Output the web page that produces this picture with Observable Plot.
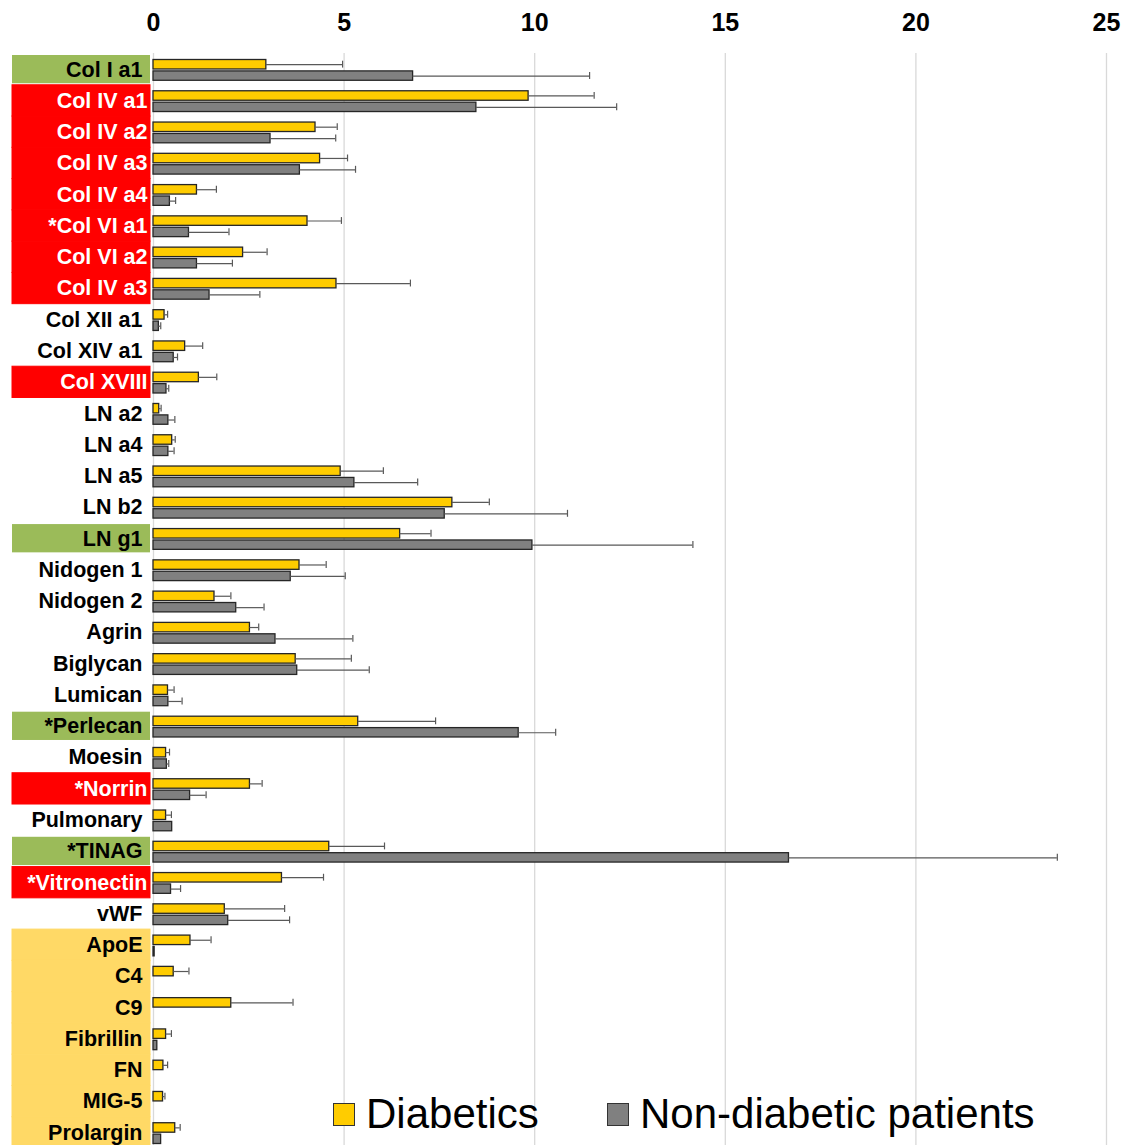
<!DOCTYPE html>
<html>
<head>
<meta charset="utf-8">
<script src="https://cdn.jsdelivr.net/npm/d3@7"></script>
<script src="https://cdn.jsdelivr.net/npm/@observablehq/plot@0.6"></script>
<style>
  body { margin: 0; background: #fff; font-family: "Liberation Sans", Arial, sans-serif; }
  #wrap { position: relative; width: 1139px; height: 1145px; overflow: hidden; }
  .legend { position: absolute; top: 1093px; display: flex; align-items: center; font-size: 42px; color: #000; line-height: 1; }
  .sw { width: 20px; height: 21px; border: 1.5px solid #333; display: inline-block; margin-right: 11px; }
</style>
</head>
<body>
<div id="wrap"></div>
<script>
const categories = ["Col I a1","Col IV a1","Col IV a2","Col IV a3","Col IV a4","*Col VI a1","Col VI a2","Col IV a3",
  "Col XII a1","Col XIV a1","Col XVIII","LN a2","LN a4","LN a5","LN b2","LN g1","Nidogen 1","Nidogen 2",
  "Agrin","Biglycan","Lumican","*Perlecan","Moesin","*Norrin","Pulmonary","*TINAG","*Vitronectin","vWF",
  "ApoE","C4","C9","Fibrillin","FN","MIG-5","Prolargin"];
const diabetics = [2.96,9.84,4.25,4.37,1.14,4.04,2.35,4.80,0.29,0.83,1.19,0.15,0.49,4.91,7.84,6.47,3.83,1.60,
  2.53,3.73,0.38,5.37,0.33,2.53,0.33,4.61,3.37,1.87,0.97,0.53,2.04,0.33,0.26,0.25,0.57];
const diabeticsErr = [2.00,1.72,0.57,0.72,0.51,0.89,0.63,1.94,0.08,0.46,0.47,0.05,0.08,1.12,0.97,0.81,0.70,0.43,
  0.23,1.46,0.16,2.03,0.09,0.32,0.14,1.45,1.09,1.57,0.54,0.40,1.62,0.14,0.11,0.05,0.13];
const nonDiabetic = [6.81,8.47,3.07,3.84,0.43,0.93,1.14,1.47,0.14,0.53,0.34,0.39,0.39,5.27,7.64,9.94,3.60,2.17,
  3.20,3.77,0.39,9.58,0.35,0.96,0.49,16.67,0.46,1.96,0.03,0,0,0.10,0,0,0.20];
const nonDiabeticErr = [4.63,3.68,1.71,1.46,0.15,1.05,0.93,1.32,0.05,0.10,0.06,0.17,0.15,1.66,3.22,4.21,1.43,0.73,
  2.03,1.89,0.36,0.97,0.05,0.42,0,7.04,0.25,1.61,0,0,0,0,0,0,0];
const highlight = ["green","red","red","red","red","red","red","red",
  "","","red","","","","","green","","",
  "","","","green","","red","","green","red","",
  "orange","orange","orange","orange","orange","orange","orange"];
const xTicks = [0,5,10,15,20,25];
const seriesNames = ["Diabetics","Non-diabetic patients"];

const boxColor = {green: "#9BBB59", red: "#FF0000", orange: "#FFD966"};
const boxInset = {green: 1.5, red: 0, orange: 0};
const yellow = "#FFCC00", gray = "#808080";

const rows = categories.map((label, i) => ({
  i, label, d: diabetics[i], dErr: diabeticsErr[i], n: nonDiabetic[i], nErr: nonDiabeticErr[i], group: highlight[i]
}));

const W = 1139, H = 1145, mL = 153, mR = 33, mT = 53;
const frameW = W - mL - mR;
const boxMarks = Object.keys(boxColor).map(g =>
  Plot.cell(rows.filter(r => r.group === g), {
    y: "i", fill: boxColor[g], stroke: boxColor[g], strokeWidth: g === "green" ? 0 : 1,
    insetLeft: -141, insetRight: frameW + 3, insetTop: boxInset[g], insetBottom: boxInset[g]
  })
);
const errStyle = {stroke: "#595959", strokeWidth: 1.2};

const chart = Plot.plot({
  width: W, height: H,
  marginTop: mT, marginLeft: mL, marginRight: mR, marginBottom: 0,
  style: {fontFamily: "'Liberation Sans', Arial, sans-serif", background: "white", overflow: "visible"},
  x: {domain: [0, 25], axis: null},
  y: {domain: d3.range(categories.length), axis: null, padding: 0, round: false, range: [mT + 0.5, H + 3]},
  marks: [
    ...boxMarks,
    Plot.ruleX(xTicks, {x: d => d, stroke: "#D9D9D9", strokeWidth: 1.3}),
    Plot.text(xTicks, {x: d => d, frameAnchor: "top", lineAnchor: "middle", dy: -31, text: d => String(d), fontSize: 25, fontWeight: "bold", fill: "black"}),
    Plot.barX(rows, {y: "i", x: "d", fill: yellow, stroke: "#262626", strokeWidth: 1.3, insetTop: 6, insetBottom: 15.8}),
    Plot.barX(rows.filter(r => r.n > 0), {y: "i", x: "n", fill: gray, stroke: "#262626", strokeWidth: 1.3, insetTop: 17.4, insetBottom: 4.5}),
    Plot.ruleY(rows.filter(r => r.dErr > 0), {y: "i", x1: "d", x2: r => r.d + r.dErr, dy: -5, ...errStyle}),
    Plot.tickX(rows.filter(r => r.dErr > 0), {y: "i", x: r => r.d + r.dErr, insetTop: 7.2, insetBottom: 17.2, ...errStyle}),
    Plot.ruleY(rows.filter(r => r.nErr > 0), {y: "i", x1: "n", x2: r => r.n + r.nErr, dy: 6.4, ...errStyle}),
    Plot.tickX(rows.filter(r => r.nErr > 0), {y: "i", x: r => r.n + r.nErr, insetTop: 18.5, insetBottom: 5.8, ...errStyle}),
    Plot.text(rows.filter(r => r.group !== "red"), {y: "i", text: "label", frameAnchor: "left", dx: -11, textAnchor: "end", fill: "black", fontSize: 21.5, fontWeight: "bold"}),
    Plot.text(rows.filter(r => r.group === "red"), {y: "i", text: "label", frameAnchor: "left", dx: -6, textAnchor: "end", fill: "white", fontSize: 21.5, fontWeight: "bold"})
  ]
});

const wrap = document.getElementById("wrap");
wrap.appendChild(chart);

const legendPos = [333, 607];
const legendColors = [yellow, gray];
seriesNames.forEach((name, k) => {
  const div = document.createElement("div");
  div.className = "legend";
  div.style.left = legendPos[k] + "px";
  const sw = document.createElement("span");
  sw.className = "sw";
  sw.style.background = legendColors[k];
  const t = document.createElement("span");
  t.textContent = name;
  div.appendChild(sw);
  div.appendChild(t);
  wrap.appendChild(div);
});
</script>
</body>
</html>
